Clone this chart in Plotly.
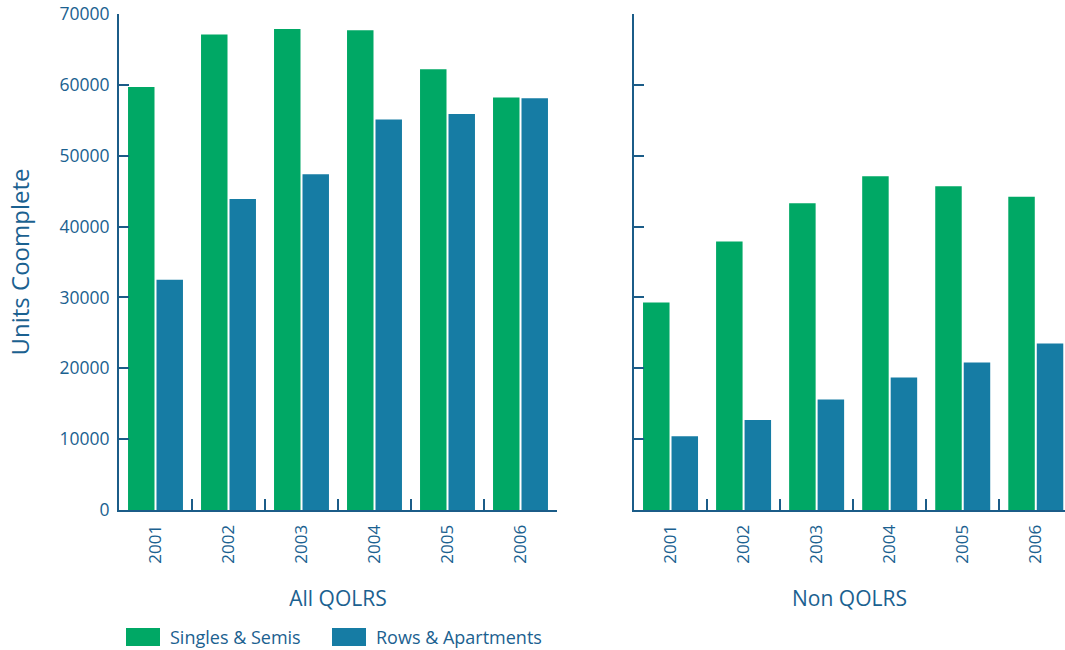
import plotly.graph_objects as go

years = ["2001", "2002", "2003", "2004", "2005", "2006"]
all_singles = [59700, 67100, 67900, 67700, 62200, 58200]
all_rows = [32500, 43900, 47400, 55100, 55900, 58100]
non_singles = [29300, 37900, 43300, 47100, 45700, 44200]
non_rows = [10400, 12700, 15600, 18700, 20800, 23500]
y_ticks = [0, 10000, 20000, 30000, 40000, 50000, 60000, 70000]

GREEN = "#00a865"
BLUE = "#167ca4"
TEXT = "#1b6190"
AXIS = "#1b5c88"
FONT = "Open Sans"

fig = go.Figure()
fig.add_trace(go.Bar(x=years, y=all_singles, name="Singles & Semis", marker_color=GREEN,
                     marker_line_width=0, xaxis="x", yaxis="y", showlegend=False))
fig.add_trace(go.Bar(x=years, y=all_rows, name="Rows & Apartments", marker_color=BLUE,
                     marker_line_width=0, xaxis="x", yaxis="y", showlegend=False))
fig.add_trace(go.Bar(x=years, y=non_singles, name="Singles & Semis", marker_color=GREEN,
                     marker_line_width=0, xaxis="x2", yaxis="y2", showlegend=False))
fig.add_trace(go.Bar(x=years, y=non_rows, name="Rows & Apartments", marker_color=BLUE,
                     marker_line_width=0, xaxis="x2", yaxis="y2", showlegend=False))

W, H = 1065, 650
ml, mr, mt, mb = 119, 0, 14, 140
pw = W - ml - mr

xcommon = dict(type="category", showline=True, linecolor=AXIS, linewidth=2,
               ticks="inside", tickson="boundaries", ticklen=11, tickwidth=2, tickcolor=AXIS,
               tickangle=-90, tickfont=dict(family=FONT, size=17, color=TEXT),
               showgrid=False, zeroline=False, ticklabelstandoff=6, automargin=False)
ycommon = dict(range=[0, 70000], tickvals=y_ticks, tickformat="d", showline=True, linecolor=AXIS,
               linewidth=2, ticks="inside", ticklen=10, tickwidth=2, tickcolor=AXIS,
               showgrid=False, zeroline=False, automargin=False,
               tickfont=dict(family=FONT, size=17.5, color=TEXT))

fig.update_layout(
    width=W, height=H,
    margin=dict(l=ml, r=mr, t=mt, b=mb, autoexpand=False),
    paper_bgcolor="white", plot_bgcolor="white",
    barmode="group", bargap=0.22, bargroupgap=0.07,
    xaxis=dict(domain=[0, 438 / pw], range=[-0.5, 5.5], anchor="y",
               title=dict(text="All QOLRS", font=dict(family=FONT, size=21, color=TEXT), standoff=29),
               **xcommon),
    yaxis=dict(domain=[0, 1], anchor="x",
               title=dict(text="Units Coomplete", font=dict(family=FONT, size=24, color=TEXT), standoff=23),
               showticklabels=True, ticklabelstandoff=4, **ycommon),
    xaxis2=dict(domain=[515 / pw, 1], range=[-0.5, 5.4], anchor="y2",
                title=dict(text="Non QOLRS", font=dict(family=FONT, size=21, color=TEXT), standoff=29),
                **xcommon),
    yaxis2=dict(domain=[0, 1], anchor="x2", showticklabels=False, **ycommon),
    showlegend=False,
)

# custom legend (paper coordinates)
def px_x(x):
    return (x - ml) / pw

def px_y(y):
    return (H - mb - y) / (H - mt - mb)

legend_items = [("Singles & Semis", GREEN, 126), ("Rows & Apartments", BLUE, 332)]
for label, color, x0 in legend_items:
    fig.add_shape(type="rect", xref="paper", yref="paper",
                  x0=px_x(x0), x1=px_x(x0 + 34), y0=px_y(646), y1=px_y(628),
                  fillcolor=color, line_width=0)
    fig.add_annotation(text=label, xref="paper", yref="paper",
                       x=px_x(x0 + 42), y=px_y(637), xanchor="left", yanchor="middle",
                       showarrow=False, font=dict(family=FONT, size=18, color=TEXT))

fig.write_html("out.html", config={"displayModeBar": False},
               post_script="document.body.style.margin='0';document.body.style.overflow='hidden';")
